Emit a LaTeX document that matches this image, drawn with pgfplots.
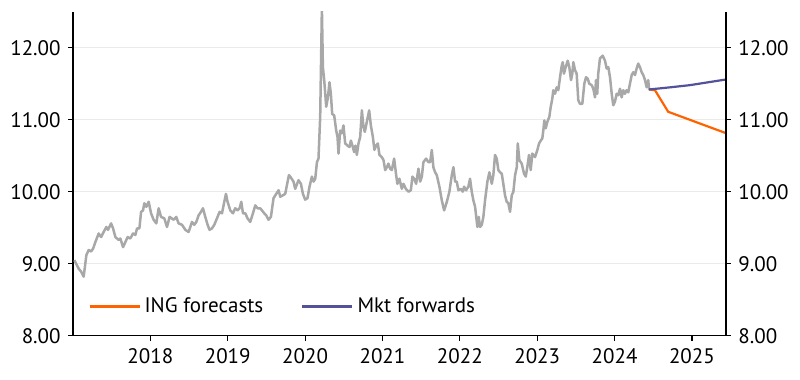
\documentclass[border=0pt]{standalone}
\usepackage{fontspec}
\setmainfont{PT Sans}
\usepackage{pgfplots}
\pgfplotsset{compat=1.18}
\definecolor{inggray}{HTML}{A8A8A8}
\definecolor{ingorange}{HTML}{FF6200}
\definecolor{ingpurple}{HTML}{525199}
\definecolor{gridgray}{HTML}{EBEBEB}
\pgfplotsset{
  common/.style={
    scale only axis, width=326.5pt, height=162pt,
    xmin=2017.0, xmax=2025.44, ymin=8, ymax=12.5,
    ytick={8,9,10,11,12},
    tick align=outside, major tick length=2.5pt,
    tick style={black, line width=0.6pt},
    axis line style={black, line width=0.6pt},
    /pgf/number format/assume math mode=true,
    ticklabel style={font=\fontsize{10.5}{12}\selectfont},
    y tick label style={/pgf/number format/.cd, fixed, fixed zerofill, precision=2},
  }
}
\begin{document}
\fontsize{10.5}{12}\selectfont
\begin{tikzpicture}
\begin{axis}[common,
  axis x line*=bottom, axis y line*=left,
  xtick={2018,2019,2020,2021,2022,2023,2024,2025},
  x tick label style={/pgf/number format/1000 sep={}},
  ymajorgrids, grid style={color=gridgray, line width=0.5pt},
  legend style={draw=none, fill=none, inner sep=0pt, at={(0.023,0.090)}, anchor=west,
    font=\fontsize{10.5}{12}\selectfont,
    /tikz/every even column/.append style={column sep=17pt}},
  legend columns=2,
  legend image code/.code={\draw[#1] (0pt,0pt) -- (21pt,0pt); \path (0pt,0pt) -- (25pt,0pt);},
]
\addplot[inggray, line width=1.25pt, line join=round, forget plot] coordinates {
(2017.018,9.05)(2017.074,8.93)(2017.105,8.89)(2017.138,8.82)(2017.173,9.12)(2017.203,9.19)
(2017.234,9.17)(2017.260,9.21)(2017.289,9.30)(2017.332,9.42)(2017.363,9.37)(2017.396,9.44)
(2017.431,9.51)(2017.453,9.47)(2017.492,9.56)(2017.518,9.49)(2017.548,9.37)(2017.590,9.33)
(2017.612,9.35)(2017.647,9.23)(2017.677,9.30)(2017.706,9.37)(2017.741,9.35)(2017.776,9.42)
(2017.806,9.40)(2017.828,9.49)(2017.858,9.49)(2017.880,9.72)(2017.905,9.74)(2017.922,9.84)
(2017.948,9.79)(2017.978,9.86)(2018.009,9.70)(2018.042,9.61)(2018.077,9.56)(2018.107,9.77)
(2018.138,9.65)(2018.180,9.63)(2018.215,9.51)(2018.249,9.65)(2018.301,9.61)(2018.335,9.65)
(2018.365,9.56)(2018.409,9.54)(2018.452,9.47)(2018.494,9.44)
(2018.538,9.58)(2018.568,9.54)(2018.594,9.58)(2018.623,9.67)(2018.654,9.72)(2018.680,9.77)
(2018.710,9.65)(2018.740,9.54)(2018.765,9.47)(2018.796,9.49)(2018.826,9.54)(2018.861,9.63)
(2018.895,9.72)(2018.926,9.70)(2018.946,9.81)(2018.977,9.97)(2018.998,9.86)(2019.033,9.74)
(2019.068,9.70)(2019.097,9.77)(2019.127,9.74)(2019.153,9.77)(2019.175,9.86)(2019.197,9.70)
(2019.227,9.70)(2019.256,9.63)(2019.291,9.58)(2019.326,9.70)(2019.356,9.81)(2019.385,9.77)
(2019.420,9.77)(2019.472,9.70)(2019.498,9.67)(2019.527,9.61)(2019.558,9.65)(2019.592,9.91)
(2019.627,9.97)(2019.657,10.02)(2019.679,9.93)(2019.713,9.95)(2019.743,9.97)(2019.765,10.09)
(2019.791,10.23)
(2019.808,10.21)(2019.850,10.14)(2019.872,10.04)(2019.915,10.16)(2019.946,10.11)(2019.972,9.97)
(2020.001,9.89)(2020.031,9.91)(2020.057,10.07)(2020.088,10.21)(2020.109,10.14)(2020.131,10.18)
(2020.153,10.41)(2020.173,10.46)(2020.195,11.04)(2020.217,12.55)(2020.230,11.73)(2020.247,11.55)
(2020.273,11.18)(2020.295,11.31)(2020.315,11.52)(2020.333,11.36)(2020.350,11.08)(2020.376,11.06)
(2020.402,10.85)(2020.419,10.76)(2020.432,10.53)(2020.453,10.85)(2020.475,10.81)(2020.496,10.92)
(2020.518,10.67)(2020.548,10.64)(2020.574,10.62)(2020.592,10.71)(2020.617,10.62)(2020.634,10.55)
(2020.651,10.64)(2020.669,10.51)(2020.690,10.67)(2020.712,10.76)(2020.734,11.13)(2020.754,10.90)
(2020.772,10.83)(2020.798,10.97)(2020.828,11.13)(2020.850,10.92)(2020.876,10.76)(2020.896,10.58)
(2020.918,10.64)(2020.940,10.67)(2020.961,10.51)(2020.992,10.48)(2021.013,10.44)(2021.035,10.30)
(2021.057,10.34)(2021.077,10.39)
(2021.099,10.32)(2021.121,10.30)(2021.151,10.46)(2021.177,10.23)(2021.193,10.11)(2021.219,10.18)
(2021.250,10.04)(2021.271,10.11)(2021.302,10.04)(2021.336,10.00)(2021.367,10.02)(2021.387,10.21)
(2021.409,10.18)(2021.435,10.11)(2021.465,10.32)(2021.487,10.14)(2021.509,10.21)(2021.529,10.41)
(2021.564,10.46)(2021.594,10.41)(2021.616,10.41)(2021.638,10.58)(2021.658,10.34)(2021.680,10.27)
(2021.702,10.23)(2021.736,10.07)(2021.767,9.88)(2021.797,9.74)(2021.832,9.86)(2021.865,10.00)
(2021.896,10.23)(2021.917,10.34)(2021.939,10.14)(2021.961,10.14)(2021.981,10.02)(2022.012,10.04)
(2022.038,10.00)(2022.055,10.07)(2022.081,10.02)(2022.110,10.07)(2022.132,10.18)(2022.154,10.00)
(2022.175,9.88)(2022.197,9.79)(2022.227,9.51)(2022.245,9.65)(2022.261,9.51)(2022.284,9.54)
(2022.304,9.65)(2022.326,9.88)(2022.356,10.14)(2022.382,10.27)(2022.413,10.11)(2022.433,10.23)
(2022.455,10.51)(2022.477,10.46)(2022.498,10.30)
(2022.520,10.27)(2022.542,10.25)(2022.562,10.11)(2022.584,9.95)(2022.606,9.86)(2022.627,9.84)
(2022.649,9.72)(2022.671,9.95)(2022.692,10.00)(2022.714,10.23)(2022.736,10.34)(2022.749,10.67)
(2022.769,10.44)(2022.800,10.39)(2022.830,10.25)(2022.852,10.21)(2022.872,10.34)(2022.894,10.51)
(2022.916,10.30)(2022.937,10.53)(2022.972,10.48)(2023.002,10.58)(2023.024,10.67)(2023.046,10.71)
(2023.066,10.74)(2023.079,10.85)(2023.092,10.99)(2023.110,10.88)(2023.131,10.97)(2023.157,11.04)
(2023.175,11.18)(2023.195,11.29)(2023.208,11.41)(2023.230,11.36)(2023.252,11.45)(2023.273,11.41)
(2023.295,11.59)(2023.317,11.75)(2023.330,11.80)(2023.346,11.64)(2023.368,11.73)(2023.394,11.82)
(2023.415,11.73)(2023.437,11.55)(2023.454,11.64)(2023.467,11.80)(2023.488,11.69)(2023.510,11.64)
(2023.531,11.27)(2023.553,11.22)(2023.583,11.22)(2023.609,11.50)(2023.631,11.59)(2023.653,11.57)
(2023.673,11.50)(2023.704,11.48)(2023.725,11.43)(2023.747,11.31)(2023.760,11.55)(2023.776,11.36)
(2023.789,11.64)
(2023.811,11.85)(2023.846,11.89)(2023.876,11.82)(2023.898,11.71)(2023.919,11.73)(2023.941,11.59)
(2023.963,11.36)(2023.983,11.20)(2024.005,11.25)(2024.027,11.36)(2024.048,11.34)(2024.070,11.43)
(2024.092,11.31)(2024.112,11.41)(2024.134,11.36)(2024.156,11.41)(2024.177,11.38)(2024.199,11.50)
(2024.221,11.62)(2024.242,11.66)(2024.264,11.62)(2024.285,11.71)(2024.306,11.78)(2024.328,11.73)
(2024.350,11.66)(2024.371,11.62)(2024.393,11.55)(2024.415,11.45)(2024.435,11.55)(2024.448,11.41)
};
\addplot[ingorange, line width=1.1pt, line join=round] coordinates {
(2024.448,11.42)(2024.522,11.41)(2024.693,11.11)(2025.448,10.81)
};
\addlegendentry{ING forecasts}
\addplot[ingpurple, line width=1.1pt, line join=round] coordinates {
(2024.448,11.42)(2024.720,11.45)(2024.974,11.48)(2025.448,11.56)
};
\addlegendentry{Mkt forwards}
\end{axis}
\begin{axis}[common,
  axis y line*=right, axis x line=none,
]
\addplot[draw=none] coordinates {(2018,10)};
\end{axis}
\pgfresetboundingbox
\path[use as bounding box] (-36.5pt,-22.15pt) rectangle (363.5pt,167.85pt);
\end{tikzpicture}
\end{document}
